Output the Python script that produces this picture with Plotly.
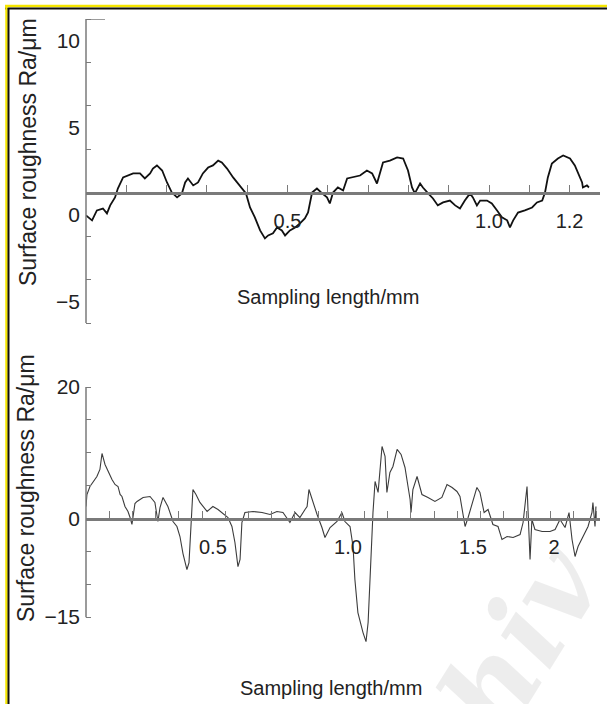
import plotly.graph_objects as go

# ---------------- data ----------------
# Top profile: sampling length (mm) vs surface roughness Ra (um)
top_x = [0.000, 0.015, 0.027, 0.042, 0.052, 0.060, 0.072, 0.079, 0.092, 0.102,
         0.117, 0.134, 0.146, 0.159, 0.166, 0.176, 0.189, 0.201, 0.213, 0.226,
         0.238, 0.246, 0.253, 0.266, 0.278, 0.290, 0.303, 0.315, 0.328, 0.337,
         0.350, 0.365, 0.382, 0.397, 0.407, 0.419, 0.432, 0.444, 0.452, 0.464,
         0.474, 0.486, 0.494, 0.506, 0.519, 0.531, 0.543, 0.551, 0.561, 0.573,
         0.586, 0.598, 0.605, 0.613, 0.625, 0.638, 0.648, 0.663, 0.680, 0.697,
         0.710, 0.722, 0.730, 0.737, 0.754, 0.772, 0.787, 0.799, 0.809, 0.816,
         0.829, 0.836, 0.849, 0.861, 0.873, 0.886, 0.903, 0.916, 0.928, 0.940,
         0.953, 0.960, 0.970, 0.978, 0.995, 1.007, 1.020, 1.032, 1.045, 1.052,
         1.060, 1.072, 1.089, 1.107, 1.119, 1.132, 1.139, 1.146, 1.156, 1.171,
         1.184, 1.201, 1.213, 1.221, 1.231, 1.233, 1.243, 1.248]
top_y = [-0.06, -0.34, 0.23, 0.34, 0.06, 0.52, 0.98, 1.49, 2.13, 2.24,
         2.36, 2.36, 2.07, 2.36, 2.64, 2.82, 2.53, 1.84, 1.26, 0.98,
         1.21, 1.84, 2.07, 1.67, 1.84, 2.36, 2.70, 2.82, 3.10, 2.99,
         2.64, 2.13, 1.67, 1.21, 0.40, -0.17, -0.92, -1.38, -1.21, -1.09,
         -0.75, -0.92, -1.21, -0.92, -0.75, -0.52, -0.23, 0.11, 1.26, 1.49,
         1.21, 0.98, 0.63, 1.26, 1.55, 1.38, 2.07, 2.13, 2.24, 2.53,
         2.36, 1.78, 2.36, 2.99, 3.10, 3.28, 3.22, 2.53, 1.55, 1.21,
         1.78, 1.55, 1.21, 0.92, 0.52, 0.69, 0.80, 0.52, 0.34, 0.80,
         1.21, 0.98, 0.52, 0.80, 0.80, 0.63, 0.23, -0.17, -0.34, -0.75,
         -0.34, 0.11, 0.23, 0.40, 0.69, 0.80, 1.26, 2.13, 2.93, 3.22,
         3.39, 3.22, 2.82, 2.36, 1.84, 1.55, 1.67, 1.55]

# Bottom profile
bot_x = [0.000, 0.004, 0.017, 0.030, 0.047, 0.060, 0.069, 0.082, 0.095, 0.112,
         0.125, 0.138, 0.147, 0.155, 0.168, 0.181, 0.190, 0.198, 0.211, 0.220,
         0.246, 0.276, 0.297, 0.310, 0.319, 0.332, 0.353, 0.375, 0.392, 0.405,
         0.418, 0.435, 0.444, 0.453, 0.461, 0.474, 0.491, 0.522, 0.547, 0.569,
         0.591, 0.612, 0.629, 0.642, 0.655, 0.664, 0.672, 0.685, 0.720, 0.759,
         0.793, 0.823, 0.849, 0.879, 0.901, 0.922, 0.944, 0.953, 0.961, 0.970,
         0.978, 0.996, 1.017, 1.030, 1.052, 1.082, 1.103, 1.116, 1.138, 1.151,
         1.159, 1.172, 1.194, 1.207, 1.216, 1.228, 1.237, 1.246, 1.259, 1.276,
         1.289, 1.297, 1.310, 1.323, 1.341, 1.358, 1.375, 1.388, 1.397, 1.401,
         1.409, 1.427, 1.448, 1.474, 1.504, 1.534, 1.556, 1.578, 1.599, 1.612,
         1.625, 1.634, 1.647, 1.668, 1.685, 1.698, 1.716, 1.733, 1.754, 1.776,
         1.793, 1.815, 1.841, 1.871, 1.884, 1.901, 1.905, 1.914, 1.922, 1.935,
         1.966, 2.000, 2.022, 2.043, 2.065, 2.082, 2.095, 2.108, 2.121, 2.142,
         2.164, 2.181, 2.185, 2.194, 2.198]
bot_y = [1.83, 3.65, 4.87, 5.48, 6.39, 7.46, 9.89, 8.22, 7.15, 5.94,
         5.18, 4.87, 3.65, 3.35, 1.83, 1.07, 0.15, -0.91, 2.28, 2.59,
         3.20, 3.35, 2.44, -0.46, 1.67, 3.20, 1.83, -0.46, -1.22, -2.74,
         -5.33, -7.76, -6.70, -0.61, 4.41, 3.65, 2.44, 1.07, 1.83, 1.37,
         0.76, 0.15, -1.22, -3.65, -7.31, -6.24, -0.61, 0.91, 1.07, 0.91,
         0.61, 1.07, 0.91, -0.61, 0.91, 0.15, 1.37, 1.83, 4.41, 3.35,
         2.44, 0.61, -1.37, -2.89, -1.37, -0.46, 0.91, -0.46, -1.22, -4.26,
         -9.28, -14.31, -17.35, -18.72, -15.83, -5.18, 0.91, 5.63, 3.96, 10.96,
         9.44, 3.96, 7.00, 7.91, 10.50, 9.74, 7.76, 4.87, 2.89, 0.91,
         4.41, 6.39, 3.65, 3.20, 2.59, 3.20, 5.18, 4.72, 4.11, 3.35,
         0.30, -1.22, 0.15, 2.89, 4.72, 3.96, 0.91, 1.37, -0.91, -1.22,
         -3.20, -2.74, -2.89, -2.44, -0.61, 4.87, 1.83, -6.24, -0.15, -1.67,
         -1.98, -1.98, -1.67, -0.15, -1.37, 0.91, -3.20, -5.78, -4.26, -2.74,
         -1.22, 0.91, 2.44, -1.22, 1.83]

# tick labels
top_xtick_vals = [0.5, 1.0, 1.2]
top_xtick_text = ["0.5", "1.0", "1.2"]
top_xminor = [0.1, 0.2, 0.3, 0.4, 0.5, 0.6, 0.7, 0.8, 0.9, 1.0, 1.1, 1.2]
top_ytick_vals = [10, 5, 0, -5]
top_ytick_text = ["10", "5", "0", "\u22125"]
top_yminor = [11.25, 8.75, 6.25, 3.75, -1.25, -3.75, -6.25]
top_yaxis_span = [-6.25, 11.25]
top_baseline = 1.25

bot_xtick_vals = [0.547, 1.129, 1.668, 2.017]
bot_xtick_text = ["0.5", "1.0", "1.5", "2"]
bot_xminor = [0.1, 0.2, 0.3, 0.4, 0.5, 0.6, 0.7, 0.8, 0.9, 1.0, 1.1,
              1.2, 1.3, 1.4, 1.5, 1.6, 1.7, 1.8, 1.9, 2.0, 2.1, 2.2]
bot_ytick_vals = [20, 0, -15]
bot_ytick_text = ["20", "0", "\u221215"]
bot_yminor = [20, 15, 10, 5, -5, -10, -15]
bot_yaxis_span = [-15, 20]
bot_baseline = 0

x_title = "Sampling length/mm"
y_title = "Surface roughness Ra/\u03bcm"

# ---------------- layout geometry ----------------
W, H = 607, 704
L, R, T, B = 86, 7, 19, 54
PW, PH = W - L - R, H - T - B

def px_x(px):
    return (px - L) / PW

def px_y(py):
    return 1 - (py - T) / PH

top_dom = [px_y(323), 1.0]
bot_dom = [px_y(650), px_y(387)]
top_yr = [-6.25, 11.25]
bot_yr = [-20, 20]
top_xr = [0, PW / 403.0]
bot_xr = [0, PW / 232.0]

def base_pos(dom, yr, v):
    return dom[0] + (v - yr[0]) / (yr[1] - yr[0]) * (dom[1] - dom[0])

FONT = "Liberation Sans, Arial, Helvetica, sans-serif"
TXT = "#222222"
AXC = "#7a7a7a"

fig = go.Figure()
fig.add_trace(go.Scatter(x=top_x, y=top_y, mode="lines", xaxis="x", yaxis="y",
                         line=dict(color="#111111", width=1.8), showlegend=False))
fig.add_trace(go.Scatter(x=bot_x, y=bot_y, mode="lines", xaxis="x2", yaxis="y2",
                         line=dict(color="#3c3c3c", width=1.1), showlegend=False))

def xaxis(rng, pos, tv, tt, minor):
    return dict(range=rng, domain=[0, 1], anchor="free", position=pos,
                showline=True, linecolor=AXC, linewidth=2.5, showgrid=False, zeroline=False,
                tickmode="array", tickvals=tv, ticktext=tt, ticks="", ticklen=0,
                ticklabelstandoff=10,
                tickfont=dict(family=FONT, size=20, color=TXT),
                minor=dict(tickmode="array", tickvals=minor, ticks="inside", ticklen=7,
                           tickwidth=1.2, tickcolor=AXC, showgrid=False))

def yaxis(rng, dom, anchor, tv, tt, minor):
    return dict(range=rng, domain=dom, anchor=anchor,
                showline=False, showgrid=False, zeroline=False,
                tickmode="array", tickvals=tv, ticktext=tt, ticks="", ticklen=0,
                ticklabelstandoff=5,
                tickfont=dict(family=FONT, size=21, color=TXT),
                minor=dict(tickmode="array", tickvals=minor, ticks="inside", ticklen=5,
                           tickwidth=1.2, tickcolor=AXC, showgrid=False))

fig.update_layout(
    width=W, height=H, margin=dict(l=L, r=R, t=T, b=B),
    paper_bgcolor="white", plot_bgcolor="white", showlegend=False,
    xaxis=xaxis(top_xr, base_pos(top_dom, top_yr, top_baseline),
                top_xtick_vals, top_xtick_text, top_xminor),
    yaxis=yaxis(top_yr, top_dom, "x", top_ytick_vals, top_ytick_text, top_yminor),
    xaxis2=xaxis(bot_xr, base_pos(bot_dom, bot_yr, bot_baseline),
                 bot_xtick_vals, bot_xtick_text, bot_xminor),
    yaxis2=yaxis(bot_yr, bot_dom, "x2", bot_ytick_vals, bot_ytick_text, bot_yminor),
)

# vertical axis lines spanning only the labelled extent
fig.add_shape(type="line", xref="x domain", yref="y", x0=0, x1=0,
              y0=top_yaxis_span[0], y1=top_yaxis_span[1],
              line=dict(color=AXC, width=1.5), layer="above")
fig.add_shape(type="line", xref="x domain", yref="y", x0=0, x1=19 / PW,
              y0=top_yaxis_span[1], y1=top_yaxis_span[1],
              line=dict(color=AXC, width=1.5), layer="above")
fig.add_shape(type="line", xref="x2 domain", yref="y2", x0=0, x1=0,
              y0=bot_yaxis_span[0], y1=bot_yaxis_span[1],
              line=dict(color=AXC, width=1.5), layer="above")

annos = [
    dict(text=x_title, x=px_x(328), y=px_y(297), size=20),
    dict(text=x_title, x=px_x(331), y=px_y(688), size=20),
    dict(text=y_title, x=px_x(28), y=px_y(152), textangle=-90, size=23),
    dict(text=y_title, x=px_x(26), y=px_y(488), textangle=-90, size=23),
]
for a in annos:
    size = a.pop("size")
    fig.add_annotation(xref="paper", yref="paper", showarrow=False,
                       xanchor="center", yanchor="middle",
                       font=dict(family=FONT, size=size, color=TXT), **a)

# faint watermark
fig.add_annotation(xref="paper", yref="paper", showarrow=False, text="<b><i>hiv</i></b>",
                   x=px_x(520), y=px_y(640), xanchor="center", yanchor="middle",
                   textangle=-58,
                   font=dict(family="DejaVu Serif, serif", size=115, color="rgba(0,0,0,0.07)"))

# frame lines (yellow + black at top and left)
shapes = [
    dict(type="line", x0=px_x(5), x1=px_x(607), y0=px_y(6), y1=px_y(6),
         line=dict(color="#f5e600", width=2.5)),
    dict(type="line", x0=px_x(5), x1=px_x(607), y0=px_y(8.5), y1=px_y(8.5),
         line=dict(color="#111111", width=2)),
    dict(type="line", x0=px_x(6.5), x1=px_x(6.5), y0=px_y(5), y1=px_y(704),
         line=dict(color="#f5e600", width=2.5)),
    dict(type="line", x0=px_x(8.5), x1=px_x(8.5), y0=px_y(8), y1=px_y(704),
         line=dict(color="#111111", width=2)),
]
for s in shapes:
    fig.add_shape(xref="paper", yref="paper", layer="above", **s)

fig.write_html("out.html", config={"displayModeBar": False},
               post_script="document.body.style.margin='0';")
